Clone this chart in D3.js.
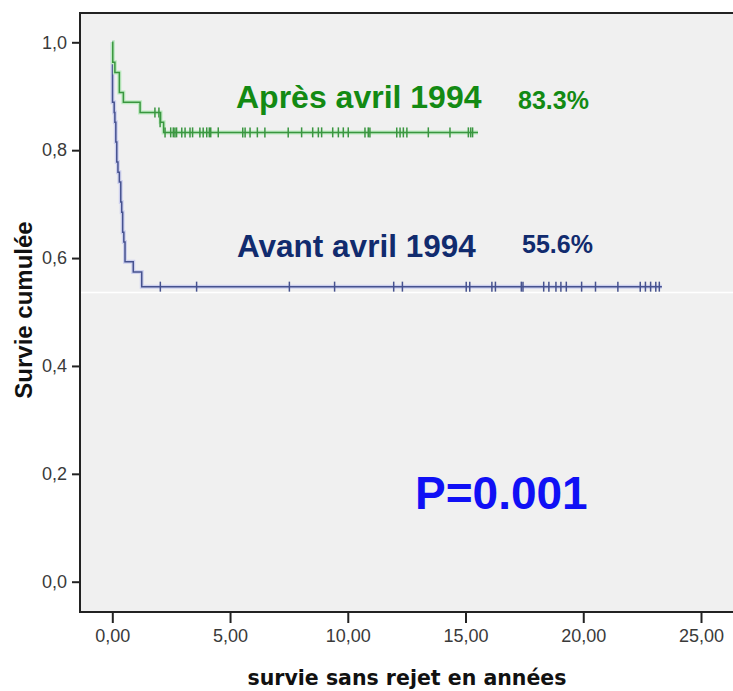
<!DOCTYPE html>
<html>
<head>
<meta charset="utf-8">
<script src="https://cdn.jsdelivr.net/npm/d3@7"></script>
<style>
  body { margin: 0; background: #fff; }
  svg { display: block; }
</style>
</head>
<body>
<script>
// survival steps: [time in years, cumulative survival]
var apresSteps = [[0, 1], [0.02, 0.963], [0.11, 0.944], [0.30, 0.907], [0.47, 0.889],
  [1.18, 0.870], [2.05, 0.852], [2.18, 0.833]];
var apresEnd = 15.53;
var apresCensored = [[1.81, 0.870], [1.98, 0.870], [2.03, 0.852],
  [2.24, 0.833], [2.48, 0.833], [2.59, 0.833], [2.66, 0.833], [2.73, 0.833], [2.95, 0.833],
  [3.09, 0.833], [3.30, 0.833], [3.41, 0.833], [3.72, 0.833], [3.86, 0.833], [4.01, 0.833],
  [4.12, 0.833], [4.18, 0.833], [4.50, 0.833], [5.54, 0.833], [5.64, 0.833], [5.85, 0.833],
  [6.16, 0.833], [6.48, 0.833], [7.47, 0.833], [8.04, 0.833], [8.51, 0.833], [8.75, 0.833],
  [8.89, 0.833], [9.36, 0.833], [9.60, 0.833], [9.81, 0.833], [10.02, 0.833], [10.73, 0.833],
  [10.87, 0.833], [10.94, 0.833], [12.08, 0.833], [12.22, 0.833], [12.36, 0.833], [12.51, 0.833],
  [13.42, 0.833], [14.34, 0.833], [15.12, 0.833], [15.22, 0.833], [15.30, 0.833]];

var avantSteps = [[0, 1], [0.01, 0.889], [0.08, 0.870], [0.11, 0.852], [0.15, 0.815],
  [0.19, 0.778], [0.24, 0.759], [0.30, 0.741], [0.36, 0.704], [0.40, 0.685], [0.44, 0.648],
  [0.49, 0.630], [0.54, 0.593], [0.89, 0.574], [1.25, 0.547]];
var avantEnd = 23.34;
var avantCensored = [2.04, 3.58, 7.52, 9.44, 11.95, 12.32, 15.03, 15.18, 16.12, 16.27,
  17.37, 17.44, 18.32, 18.54, 18.84, 19.05, 19.28, 19.93, 20.52, 21.47, 22.42, 22.64,
  22.86, 23.08, 23.23];
var avantLast = 0.547;

var yTicks = [0, 0.2, 0.4, 0.6, 0.8, 1.0];
var xTicks = [0, 5, 10, 15, 20, 25];

(function() {
  var W = 733, H = 691;
  var pLeft = 80, pTop = 13, pBottom = 612;

  var svg = d3.select('body').append('svg')
    .attr('width', W)
    .attr('height', H);

  var x = d3.scaleLinear().domain([0, 25]).range([112.3, 701]);
  var y = d3.scaleLinear().domain([0, 1]).range([581.7, 42.3]);

  // plot background
  svg.append('rect')
    .attr('x', pLeft).attr('y', pTop)
    .attr('width', W - pLeft).attr('height', pBottom - pTop)
    .attr('fill', '#f0f0f0');

  // thin white seam that crosses the picture
  svg.append('line')
    .attr('x1', pLeft + 1).attr('x2', W)
    .attr('y1', 292.5).attr('y2', 292.5)
    .attr('stroke', '#fff').attr('stroke-width', 1.5);

  var comma = function(f) {
    return function(d) { return d3.format(f)(d).replace('.', ','); };
  };

  // axes
  var yAxis = svg.append('g')
    .attr('transform', 'translate(' + pLeft + ',0)')
    .call(d3.axisLeft(y).tickValues(yTicks).tickFormat(comma('.1f')).tickSize(8).tickPadding(5));
  var xAxis = svg.append('g')
    .attr('transform', 'translate(0,' + pBottom + ')')
    .call(d3.axisBottom(x).tickValues(xTicks).tickFormat(comma('.2f')).tickSize(11).tickPadding(6));

  [yAxis, xAxis].forEach(function(g) {
    g.select('.domain').remove();
    g.selectAll('line').attr('stroke', '#222').attr('stroke-width', 2);
    g.selectAll('text')
      .attr('fill', '#3a3a3a')
      .style('font-family', 'Liberation Sans, Arial, sans-serif')
      .style('font-size', '18px');
  });

  // frame
  svg.append('path')
    .attr('d', 'M' + W + ',' + pTop + 'H' + pLeft + 'V' + pBottom + 'H' + W)
    .attr('fill', 'none')
    .attr('stroke', '#222')
    .attr('stroke-width', 2);

  var line = d3.line()
    .x(function(d) { return x(d[0]); })
    .y(function(d) { return y(d[1]); })
    .curve(d3.curveStepAfter);

  var drawCurve = function(steps, end, censored, col, halo) {
    var pts = steps.concat([[end, steps[steps.length - 1][1]]]);
    var g = svg.append('g');
    g.append('path').attr('d', line(pts))
      .attr('fill', 'none').attr('stroke', halo).attr('stroke-width', 4);
    g.append('path').attr('d', line(pts))
      .attr('fill', 'none').attr('stroke', col).attr('stroke-width', 1.5);
    g.selectAll('line.c').data(censored).enter().append('line')
      .attr('class', 'c')
      .attr('x1', function(d) { return x(d[0]); })
      .attr('x2', function(d) { return x(d[0]); })
      .attr('y1', function(d) { return y(d[1]) - 5; })
      .attr('y2', function(d) { return y(d[1]) + 5; })
      .attr('stroke', col).attr('stroke-width', 1.5);
  };

  drawCurve(avantSteps, avantEnd,
    avantCensored.map(function(t) { return [t, avantLast]; }),
    '#46528f', '#cdd0ee');
  drawCurve(apresSteps, apresEnd, apresCensored, '#3a9640', '#bdeac0');

  // annotations
  var bold = function(sel, fam, size, col) {
    return sel.style('font-family', fam).style('font-size', size + 'px')
      .style('font-weight', 'bold').attr('fill', col);
  };
  var arial = 'Liberation Sans, Arial, sans-serif';

  bold(svg.append('text').attr('x', 236).attr('y', 108).text('Après avril 1994'), arial, 32, '#138a13');
  bold(svg.append('text').attr('x', 518).attr('y', 109).text('83.3%'), arial, 25, '#138a13');
  bold(svg.append('text').attr('x', 237).attr('y', 257).text('Avant avril 1994'), arial, 31.5, '#112b6e');
  bold(svg.append('text').attr('x', 522).attr('y', 253).text('55.6%'), arial, 25, '#112b6e');
  bold(svg.append('text').attr('x', 415).attr('y', 509).text('P=0.001'), arial, 46, '#1010f5');

  // axis titles
  bold(svg.append('text')
    .attr('transform', 'translate(32,310) rotate(-90)')
    .attr('text-anchor', 'middle')
    .text('Survie cumulée'), arial, 24, '#111');

  bold(svg.append('text')
    .attr('x', 407).attr('y', 685)
    .attr('text-anchor', 'middle')
    .text('survie sans rejet en années'), 'DejaVu Sans, sans-serif', 20.5, '#111');
})();
</script>
</body>
</html>
